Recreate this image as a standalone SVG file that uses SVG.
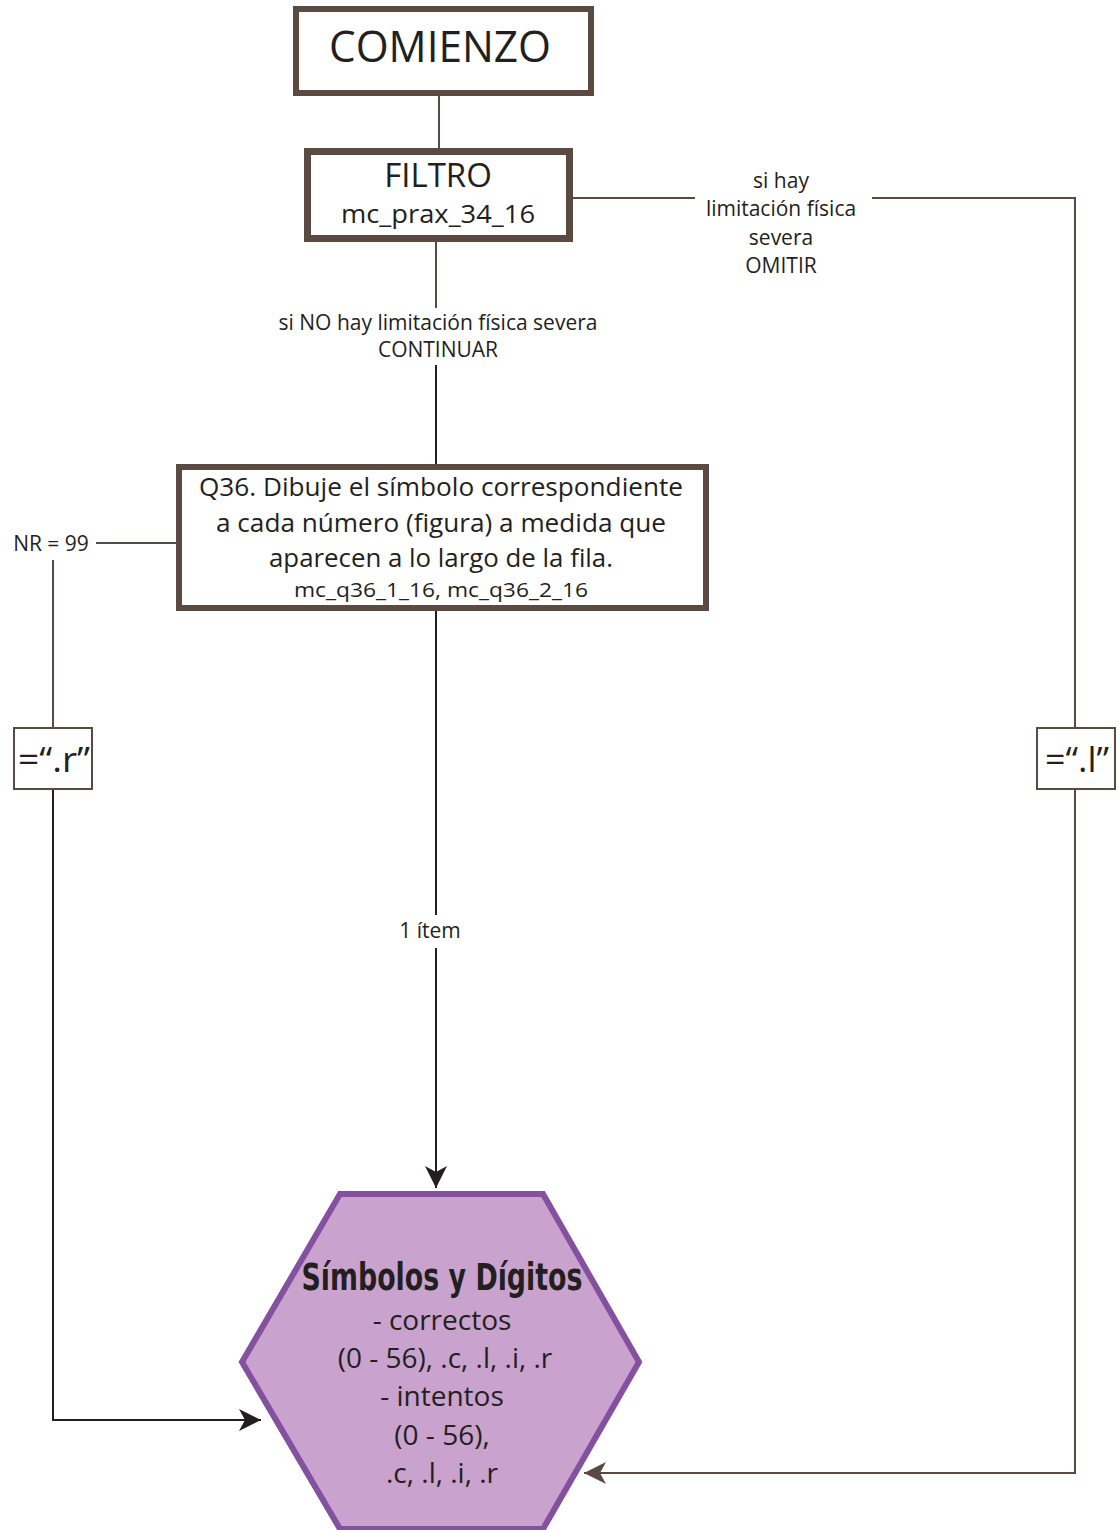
<svg xmlns="http://www.w3.org/2000/svg" width="1119" height="1530" viewBox="0 0 1119 1530">
<style>
text{font-family:"Open Sans","Noto Sans","DejaVu Sans",sans-serif;fill:#231f20;text-anchor:middle}
.box{fill:#fff;stroke:#5b4a42}
.ln{fill:none;stroke:#5b4a42;stroke-width:2}
.lnk{fill:none;stroke:#231f20;stroke-width:2}
.lbl{font-size:21px}
.hx{font-size:28px}
</style>
<defs>
<marker id="ak" markerWidth="24" markerHeight="24" refX="22" refY="12" orient="auto" markerUnits="userSpaceOnUse"><path d="M0,1 L22,12 L0,23 L6,12 Z" fill="#231f20"/></marker>
<marker id="ab" markerWidth="24" markerHeight="24" refX="22" refY="12" orient="auto" markerUnits="userSpaceOnUse"><path d="M0,1 L22,12 L0,23 L6,12 Z" fill="#5b4a42"/></marker>
</defs>
<g id="connectors">
<line class="ln" x1="439" y1="96" x2="439" y2="148"/>
<line class="ln" x1="436" y1="242" x2="436" y2="308"/>
<line class="lnk" x1="436" y1="365" x2="436" y2="464"/>
<polyline class="ln" points="573,198 695,198"/>
<polyline class="ln" points="872,198 1075,198 1075,727"/>
<polyline class="ln" points="1075,790 1075,1473 584,1473" marker-end="url(#ab)"/>
<line class="ln" x1="96" y1="543" x2="176" y2="543"/>
<line class="ln" x1="53" y1="560" x2="53" y2="727"/>
<polyline class="lnk" points="53,790 53,1420 261,1420" marker-end="url(#ak)"/>
<line class="lnk" x1="436" y1="611" x2="436" y2="915"/>
<line class="lnk" x1="436" y1="948" x2="436" y2="1188" marker-end="url(#ak)"/>
<text class="lbl" x="438" y="330">si NO hay limitación física severa</text>
<text class="lbl" x="438" y="357">CONTINUAR</text>
<text class="lbl" x="781" y="188">si hay</text>
<text class="lbl" x="781" y="216">limitación física</text>
<text class="lbl" x="781" y="245">severa</text>
<text class="lbl" x="781" y="273">OMITIR</text>
<text class="lbl" x="51" y="551">NR = 99</text>
<text class="lbl" x="430" y="938">1 ítem</text>
</g>
<g id="comienzo">
<rect class="box" x="296" y="9" width="295" height="84" stroke-width="6"/>
<text x="440" y="62" font-size="44" textLength="222" lengthAdjust="spacingAndGlyphs">COMIENZO</text>
</g>
<g id="filtro">
<rect class="box" x="307.5" y="151.5" width="262" height="87" stroke-width="7"/>
<text x="438" y="187" font-size="33">FILTRO</text>
<text x="438" y="223" font-size="25" textLength="194" lengthAdjust="spacingAndGlyphs">mc_prax_34_16</text>
</g>
<g id="q36">
<rect class="box" x="179" y="467" width="527" height="141" stroke-width="6"/>
<text x="441" y="496" font-size="25" textLength="484" lengthAdjust="spacingAndGlyphs">Q36. Dibuje el símbolo correspondiente</text>
<text x="441" y="532" font-size="25" textLength="450" lengthAdjust="spacingAndGlyphs">a cada número (figura) a medida que</text>
<text x="441" y="567" font-size="25" textLength="344" lengthAdjust="spacingAndGlyphs">aparecen a lo largo de la fila.</text>
<text x="441" y="597" font-size="20" textLength="294" lengthAdjust="spacingAndGlyphs">mc_q36_1_16, mc_q36_2_16</text>
</g>
<g id="r-box">
<rect class="box" x="14" y="728" width="78" height="61" stroke-width="2"/>
<text x="54" y="772" font-size="34" textLength="72" lengthAdjust="spacingAndGlyphs">=“.r”</text>
</g>
<g id="l-box">
<rect class="box" x="1037" y="728" width="78" height="61" stroke-width="2"/>
<text x="1077" y="772" font-size="34" textLength="64" lengthAdjust="spacingAndGlyphs">=“.l”</text>
</g>
<g id="simbolos">
<polygon points="340,1194 543,1194 639,1362 543,1529 340,1529 242,1362" fill="#c9a3cd" stroke="#8450a0" stroke-width="6"/>
<text x="442" y="1290" font-size="37" font-weight="bold" style="font-family:'Liberation Sans Narrow','DejaVu Sans Condensed',sans-serif;font-stretch:condensed" textLength="281" lengthAdjust="spacingAndGlyphs">Símbolos y Dígitos</text>
<text class="hx" x="442" y="1330">- correctos</text>
<text class="hx" x="445" y="1368">(0 - 56), .c, .l, .i, .r</text>
<text class="hx" x="442" y="1406">- intentos</text>
<text class="hx" x="442" y="1445">(0 - 56),</text>
<text class="hx" x="442" y="1483">.c, .l, .i, .r</text>
</g>
</svg>
